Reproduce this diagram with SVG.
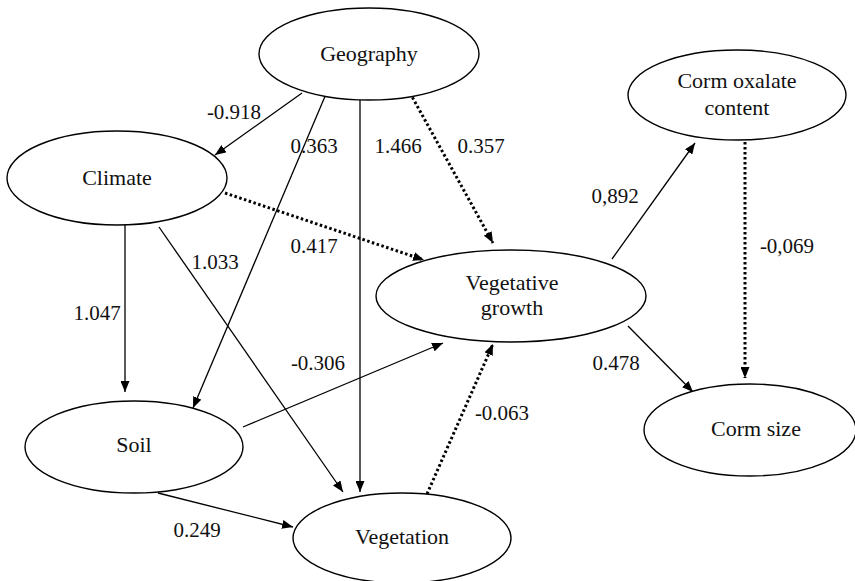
<svg xmlns="http://www.w3.org/2000/svg" width="855" height="581" viewBox="0 0 855 581">
<style>
.node ellipse{fill:#fff;stroke:#000;stroke-width:1.4}
.node text{font-family:'Liberation Serif','DejaVu Serif','Noto Serif',serif;font-size:22px;fill:#111;text-anchor:middle}
.lbl{font-family:'Liberation Serif','DejaVu Serif','Noto Serif',serif;font-size:21px;fill:#111;text-anchor:middle}
.solid{stroke:#000;stroke-width:1.3;fill:none}
.dot{stroke:#000;stroke-width:3;stroke-dasharray:2.5 2.5;fill:none}
</style>
<defs>
<marker id="ah" markerUnits="userSpaceOnUse" markerWidth="11" markerHeight="9" refX="11" refY="4.5" orient="auto" viewBox="0 0 11 9">
<path d="M0,0 L11,4.5 L0,9 z" fill="#000"/>
</marker>
</defs>
<rect width="855" height="581" fill="#fff"/>
<g id="connectors">
<line class="solid" x1="302" y1="93" x2="215" y2="155" marker-end="url(#ah)"/>
<line class="solid" x1="326" y1="94" x2="193" y2="408" marker-end="url(#ah)"/>
<line class="solid" x1="360" y1="100" x2="360" y2="492" marker-end="url(#ah)"/>
<line class="dot" x1="410" y1="93" x2="493" y2="243" marker-end="url(#ah)"/>
<line class="dot" x1="225" y1="193" x2="424" y2="260" marker-end="url(#ah)"/>
<line class="solid" x1="125" y1="225" x2="125" y2="392" marker-end="url(#ah)"/>
<line class="solid" x1="159" y1="227" x2="343" y2="492" marker-end="url(#ah)"/>
<line class="solid" x1="243" y1="427" x2="443" y2="343" marker-end="url(#ah)"/>
<line class="solid" x1="158" y1="493" x2="293" y2="527" marker-end="url(#ah)"/>
<line class="dot" x1="427" y1="494" x2="493" y2="344" marker-end="url(#ah)"/>
<line class="solid" x1="612" y1="259" x2="695" y2="143" marker-end="url(#ah)"/>
<line class="solid" x1="628" y1="326" x2="693" y2="392" marker-end="url(#ah)"/>
<line class="dot" x1="745" y1="142" x2="745" y2="378" marker-end="url(#ah)"/>
<text class="lbl" x="234" y="119">-0.918</text>
<text class="lbl" x="314" y="153">0.363</text>
<text class="lbl" x="398" y="153">1.466</text>
<text class="lbl" x="481" y="153">0.357</text>
<text class="lbl" x="215" y="269">1.033</text>
<text class="lbl" x="97" y="320">1.047</text>
<text class="lbl" x="314" y="253">0.417</text>
<text class="lbl" x="318" y="370">-0.306</text>
<text class="lbl" x="197" y="537">0.249</text>
<text class="lbl" x="502" y="420">-0.063</text>
<text class="lbl" x="615" y="203">0,892</text>
<text class="lbl" x="616" y="370">0.478</text>
<text class="lbl" x="787" y="253">-0,069</text>
</g>
<g id="geography" class="node"><ellipse cx="369" cy="54" rx="110" ry="46"/><text x="369" y="61">Geography</text></g>
<g id="climate" class="node"><ellipse cx="117" cy="178" rx="110" ry="47"/><text x="117" y="185">Climate</text></g>
<g id="corm-oxalate" class="node"><ellipse cx="737" cy="95" rx="109" ry="45"/><text x="737" y="88">Corm oxalate</text><text x="737" y="115">content</text></g>
<g id="vegetative-growth" class="node"><ellipse cx="511" cy="296" rx="135" ry="46"/><text x="512" y="290">Vegetative</text><text x="512" y="315">growth</text></g>
<g id="soil" class="node"><ellipse cx="134" cy="447" rx="109" ry="46"/><text x="134" y="452">Soil</text></g>
<g id="vegetation" class="node"><ellipse cx="402" cy="538" rx="109" ry="45"/><text x="402" y="544">Vegetation</text></g>
<g id="corm-size" class="node"><ellipse cx="750" cy="430" rx="106" ry="46"/><text x="756" y="436">Corm size</text></g>
</svg>
